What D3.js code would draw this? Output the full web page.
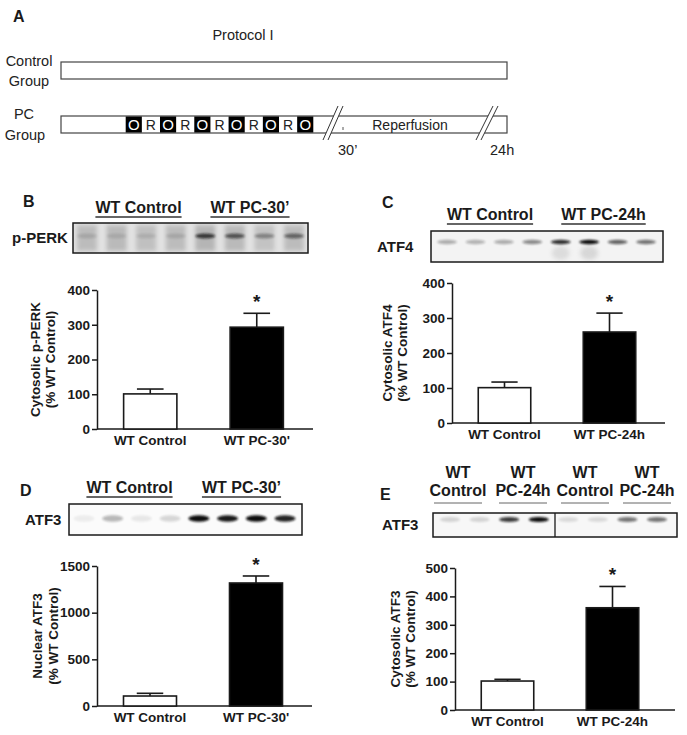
<!DOCTYPE html>
<html>
<head>
<meta charset="utf-8">
<script src="https://cdn.jsdelivr.net/npm/d3@7"></script>
<style>
  body { margin: 0; background: #fff; }
  svg { display: block; font-family: "Liberation Sans", Arial, sans-serif; }
  .bold { font-weight: bold; }
</style>
</head>
<body>
<svg id="fig" width="687" height="735"></svg>
<script>
// protocol I: occlusion / reperfusion cycles
const protocolSegments = ["O", "R", "O", "R", "O", "R", "O", "R", "O", "R", "O"];

// panel B - cytosolic p-PERK
const categoriesB = ["WT Control", "WT PC-30'"];
const meansB = [101, 293];
const errorsB = [14, 40];
const ticksB = [0, 100, 200, 300, 400];
const bandsB = [0.12, 0.1, 0.1, 0.12, 0.75, 0.6, 0.35, 0.5];
const lanesB = [0.42, 0.45, 0.38, 0.42, 0.5, 0.45, 0.35, 0.42];

// panel C - cytosolic ATF4
const categoriesC = ["WT Control", "WT PC-24h"];
const meansC = [101, 260];
const errorsC = [16, 54];
const ticksC = [0, 100, 200, 300, 400];
const bandsC = [0.3, 0.28, 0.3, 0.45, 0.85, 1.0, 0.62, 0.55];

// panel D - nuclear ATF3
const categoriesD = ["WT Control", "WT PC-30'"];
const meansD = [107, 1318];
const errorsD = [29, 75];
const ticksD = [0, 500, 1000, 1500];
const bandsD = [0.06, 0.28, 0.08, 0.15, 1.0, 0.95, 1.0, 0.9];

// panel E - cytosolic ATF3
const categoriesE = ["WT Control", "WT PC-24h"];
const meansE = [102, 360];
const errorsE = [6, 75];
const ticksE = [0, 100, 200, 300, 400, 500];
const bandsE = [0.15, 0.15, 0.8, 1.0, 0.12, 0.12, 0.55, 0.55];
const headersE = [["WT", "Control"], ["WT", "PC-24h"], ["WT", "Control"], ["WT", "PC-24h"]];

const svg = d3.select("#fig");
const ink = "#1a1a1a";

// blur filters for the blot bands
const defs = svg.append("defs");
defs.append("filter").attr("id", "blur").attr("x", "-50%").attr("y", "-100%").attr("width", "200%").attr("height", "300%")
  .append("feGaussianBlur").attr("stdDeviation", 1.3);
defs.append("filter").attr("id", "blurLane").attr("x", "-30%").attr("y", "-10%").attr("width", "160%").attr("height", "120%")
  .append("feGaussianBlur").attr("stdDeviation", 2.2);

function panelLetter(x, y, t) {
  svg.append("text").attr("class", "bold").attr("x", x).attr("y", y)
    .style("font-size", "16px").attr("fill", ink).text(t);
}

// ---------- panel A: protocol schematic ----------
function drawProtocol() {
  const g = svg.append("g").attr("fill", "#222").style("font-size", "14.5px");
  panelLetter(13, 22, "A");
  g.append("text").attr("x", 243).attr("y", 40).attr("text-anchor", "middle").text("Protocol I");

  [["Control", 29, 66], ["Group", 29, 86], ["PC", 24, 119], ["Group", 25, 140]].forEach(d => {
    g.append("text").attr("x", d[1]).attr("y", d[2]).attr("text-anchor", "middle").text(d[0]);
  });

  g.append("rect").attr("x", 61).attr("y", 62).attr("width", 446).attr("height", 17)
    .attr("fill", "#fff").attr("stroke", "#444").attr("stroke-width", 1.2);
  g.append("rect").attr("x", 61).attr("y", 116).attr("width", 446).attr("height", 17)
    .attr("fill", "#fff").attr("stroke", "#444").attr("stroke-width", 1.2);

  const segs = protocolSegments.map((t, i) => ({ t, i }));
  const seg = d3.scaleBand().domain(d3.range(segs.length)).range([125.7, 314.3]);
  g.selectAll(".box").data(segs.filter(d => d.t === "O")).join("rect").attr("class", "box")
    .attr("x", d => seg(d.i)).attr("y", 116.5).attr("width", seg.bandwidth() - 1).attr("height", 16)
    .attr("fill", "#000");
  g.selectAll(".lett").data(segs).join("text").attr("class", "lett")
    .attr("x", d => seg(d.i) + (seg.bandwidth() - 1) / 2).attr("y", 130)
    .attr("text-anchor", "middle").style("font-size", d => d.t === "O" ? "15px" : "14px")
    .attr("fill", d => d.t === "O" ? "#fff" : "#222").text(d => d.t);

  // axis breaks
  [[323, 338, 328, 343], [476, 493, 481, 498]].forEach(b => {
    g.append("polygon").attr("points", `${b[0]},140 ${b[1]},106 ${b[3]},106 ${b[2]},140`).attr("fill", "#fff");
    g.append("line").attr("x1", b[0]).attr("y1", 140).attr("x2", b[1]).attr("y2", 106).attr("stroke", "#333").attr("stroke-width", 1);
    g.append("line").attr("x1", b[2]).attr("y1", 140).attr("x2", b[3]).attr("y2", 106).attr("stroke", "#333").attr("stroke-width", 1);
  });
  g.append("line").attr("x1", 343).attr("x2", 343).attr("y1", 127).attr("y2", 130).attr("stroke", "#555");
  g.append("text").attr("x", 410).attr("y", 130).attr("text-anchor", "middle").style("font-size", "14px").text("Reperfusion");
  g.append("text").attr("x", 338).attr("y", 155).text("30\u2019");
  g.append("text").attr("x", 490).attr("y", 155).text("24h");
}

// ---------- western blot strips ----------
function drawBlot(o) {
  const g = svg.append("g");
  const lane = d3.scalePoint().domain(d3.range(o.bands.length)).range(o.lanes);
  g.append("rect").attr("x", o.x).attr("y", o.y).attr("width", o.w).attr("height", o.h).attr("fill", o.bg);
  if (o.laneShade) {
    g.selectAll(".lane").data(o.laneShade).join("rect").attr("class", "lane")
      .attr("x", (d, i) => lane(i) - 10).attr("y", o.y + 2).attr("width", 20).attr("height", o.h - 4)
      .attr("fill", "#8a8a8a").attr("opacity", d => d).attr("filter", "url(#blurLane)");
  }
  if (o.smear) {
    g.selectAll(".smear").data(o.smear).join("ellipse").attr("class", "smear")
      .attr("cx", (d, i) => lane(i)).attr("cy", o.bandY + 11).attr("rx", 9).attr("ry", 7)
      .attr("fill", "#999").attr("opacity", d => d).attr("filter", "url(#blurLane)");
  }
  g.selectAll(".band").data(o.bands).join("ellipse").attr("class", "band")
    .attr("cx", (d, i) => lane(i)).attr("cy", o.bandY)
    .attr("rx", o.rx).attr("ry", o.ry)
    .attr("fill", "#111").attr("opacity", d => d).attr("filter", "url(#blur)");
  if (o.divider) {
    g.append("line").attr("x1", o.divider).attr("x2", o.divider).attr("y1", o.y).attr("y2", o.y + o.h)
      .attr("stroke", ink).attr("stroke-width", 1.3);
  }
  g.append("rect").attr("x", o.x).attr("y", o.y).attr("width", o.w).attr("height", o.h)
    .attr("fill", "none").attr("stroke", ink).attr("stroke-width", 1.5);
  g.append("text").attr("class", "bold").attr("x", o.labelX).attr("y", o.y + o.h / 2 + 5)
    .style("font-size", "15px").attr("fill", ink).text(o.label);
}

function blotHeader(cats, centers, baseline) {
  cats.forEach((c, i) => {
    const t = svg.append("text").attr("class", "bold").attr("x", centers[i]).attr("y", baseline)
      .attr("text-anchor", "middle").style("font-size", "16px").attr("fill", ink)
      .text(c.replace("'", "\u2019"));
    const w = t.node().getComputedTextLength();
    svg.append("line").attr("x1", centers[i] - w / 2).attr("x2", centers[i] + w / 2)
      .attr("y1", baseline + 4).attr("y2", baseline + 4).attr("stroke", "#333").attr("stroke-width", 1.4);
  });
}

// ---------- bar charts ----------
function drawBars(o) {
  const x = d3.scaleBand().domain(o.cats).range([o.left, o.right]).paddingInner(0.5).paddingOuter(0.25);
  const y = d3.scaleLinear().domain([0, o.max]).range([o.bottom, o.top]);
  const g = svg.append("g");

  const yAxis = g.append("g").attr("transform", `translate(${o.left},0)`)
    .call(d3.axisLeft(y).tickValues(o.ticks).tickFormat(d3.format("d")).tickSize(5).tickSizeOuter(0).tickPadding(2));
  yAxis.select(".domain").attr("stroke", ink).attr("stroke-width", 1.5);
  yAxis.selectAll(".tick line").attr("stroke", ink).attr("stroke-width", 1.5);
  yAxis.selectAll(".tick text").attr("fill", ink).attr("class", "bold")
    .style("font-size", "13.5px").style("font-family", "'Liberation Sans', Arial, sans-serif");

  g.append("line").attr("x1", o.left).attr("x2", o.axisEnd).attr("y1", o.bottom).attr("y2", o.bottom)
    .attr("stroke", ink).attr("stroke-width", 1.5);

  g.selectAll(".xl").data(o.cats).join("text").attr("class", "bold xl")
    .attr("x", d => x(d) + x.bandwidth() / 2).attr("y", o.bottom + 16)
    .attr("text-anchor", "middle").style("font-size", "13.5px").attr("fill", ink).text(d => d);

  const bw = x.bandwidth();
  // error bars (upper only)
  g.selectAll(".err").data(o.cats).join("line").attr("class", "err")
    .attr("x1", d => x(d) + bw / 2).attr("x2", d => x(d) + bw / 2)
    .attr("y1", (d, i) => y(o.means[i])).attr("y2", (d, i) => y(o.means[i] + o.errs[i]))
    .attr("stroke", ink).attr("stroke-width", 1.6);
  g.selectAll(".cap").data(o.cats).join("line").attr("class", "cap")
    .attr("x1", d => x(d) + bw * 0.25).attr("x2", d => x(d) + bw * 0.75)
    .attr("y1", (d, i) => y(o.means[i] + o.errs[i])).attr("y2", (d, i) => y(o.means[i] + o.errs[i]))
    .attr("stroke", ink).attr("stroke-width", 1.6);

  g.selectAll(".bar").data(o.cats).join("rect").attr("class", "bar")
    .attr("x", d => x(d)).attr("width", bw)
    .attr("y", (d, i) => y(o.means[i])).attr("height", (d, i) => o.bottom - y(o.means[i]))
    .attr("fill", (d, i) => i === 0 ? "#fff" : "#000")
    .attr("stroke", ink).attr("stroke-width", 1.6);

  // significance star over PC bar
  const last = o.cats.length - 1;
  g.append("text").attr("class", "bold")
    .attr("x", x(o.cats[last]) + bw / 2).attr("y", y(o.means[last] + o.errs[last]) - 5)
    .attr("text-anchor", "middle").style("font-size", "19px").attr("fill", ink).text("*");

  const cy = (o.top + o.bottom) / 2;
  o.ylabel.forEach((t, i) => {
    g.append("text").attr("class", "bold")
      .attr("transform", `translate(${o.labelX[i]},${cy}) rotate(-90)`)
      .attr("text-anchor", "middle").attr("dominant-baseline", "central")
      .style("font-size", "13.5px").attr("fill", ink).text(t);
  });
}

drawProtocol();

// panel B
panelLetter(23, 207, "B");
blotHeader(categoriesB, [138.5, 250], 213);
drawBlot({ x: 73, y: 223, w: 235, h: 30, bg: "#e2e2e2", lanes: [87, 294], bands: bandsB, laneShade: lanesB,
  bandY: 236, rx: 10, ry: 2.6, label: "p-PERK", labelX: 12 });
drawBars({ cats: categoriesB, means: meansB, errs: errorsB, ticks: ticksB, max: 400,
  left: 97, right: 310, axisEnd: 313, top: 290, bottom: 429,
  ylabel: ["Cytosolic p-PERK", "(% WT Control)"], labelX: [35, 50] });

// panel C
panelLetter(382, 208, "C");
blotHeader(categoriesC, [490, 603.5], 220);
drawBlot({ x: 431, y: 231, w: 232, h: 31, bg: "#f3f3f3", lanes: [447, 646], bands: bandsC,
  smear: [0, 0, 0, 0, 0.25, 0.3, 0, 0], bandY: 242, rx: 10, ry: 2.2, label: "ATF4", labelX: 377 });
drawBars({ cats: categoriesC, means: meansC, errs: errorsC, ticks: ticksC, max: 400,
  left: 452, right: 662, axisEnd: 665, top: 283, bottom: 423,
  ylabel: ["Cytosolic ATF4", "(% WT Control)"], labelX: [387, 402] });

// panel D
panelLetter(20, 496, "D");
blotHeader(categoriesD, [129.5, 241.5], 493);
drawBlot({ x: 69, y: 504, w: 233, h: 31, bg: "#fbfbfb", lanes: [84, 285], bands: bandsD,
  bandY: 518.5, rx: 10.5, ry: 3.2, label: "ATF3", labelX: 25 });
drawBars({ cats: categoriesD, means: meansD, errs: errorsD, ticks: ticksD, max: 1500,
  left: 97, right: 309, axisEnd: 312, top: 566, bottom: 706,
  ylabel: ["Nuclear ATF3", "(% WT Control)"], labelX: [37, 53] });

// panel E
panelLetter(380, 500, "E");
headersE.forEach((h, i) => {
  const cx = [458, 523, 585, 647][i];
  svg.append("text").attr("class", "bold").attr("x", cx).attr("y", 478).attr("text-anchor", "middle")
    .style("font-size", "16px").attr("fill", ink).text(h[0]);
  svg.append("text").attr("class", "bold").attr("x", cx).attr("y", 496).attr("text-anchor", "middle")
    .style("font-size", "16px").attr("fill", ink).text(h[1]);
  svg.append("line").attr("x1", cx - 24).attr("x2", cx + 24).attr("y1", 503).attr("y2", 503)
    .attr("stroke", "#666").attr("stroke-width", 1);
});
drawBlot({ x: 433, y: 513, w: 244, h: 24, bg: "#f7f7f7", lanes: [450, 657], bands: bandsE,
  bandY: 519.5, rx: 10, ry: 2.6, divider: 555, label: "ATF3", labelX: 382 });
drawBars({ cats: categoriesE, means: meansE, errs: errorsE, ticks: ticksE, max: 500,
  left: 455, right: 665, axisEnd: 675, top: 568, bottom: 710,
  ylabel: ["Cytosolic ATF3", "(% WT Control)"], labelX: [395, 410] });
</script>
</body>
</html>
